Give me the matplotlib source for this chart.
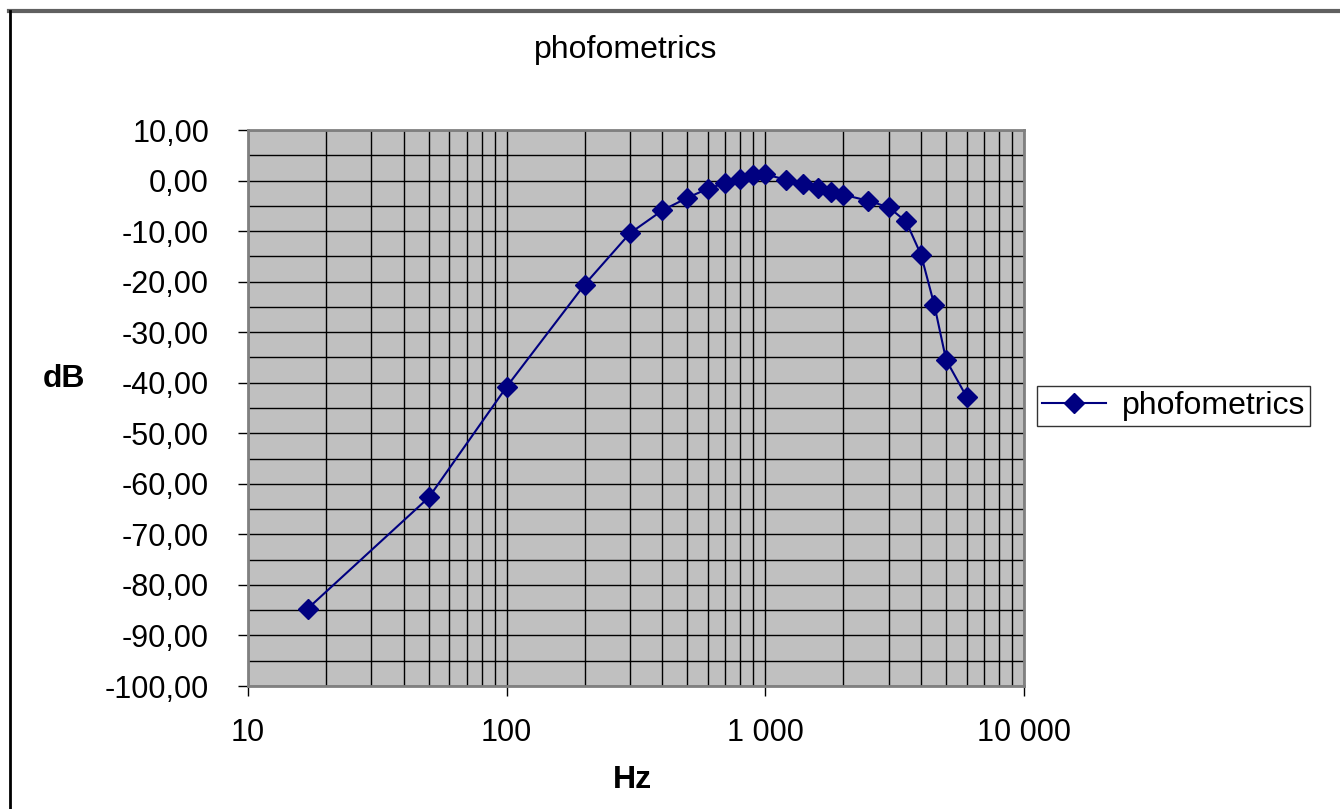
import matplotlib
matplotlib.use("Agg")
import matplotlib.pyplot as plt
from matplotlib.lines import Line2D
from matplotlib.ticker import FixedLocator, FuncFormatter, LogLocator, MultipleLocator

plt.rcParams['font.family'] = ['Liberation Sans', 'DejaVu Sans']

# data
freq_hz = [17, 50, 100, 200, 300, 400, 500, 600, 700, 800, 900, 1000,
           1200, 1400, 1600, 1800, 2000, 2500, 3000, 3500, 4000, 4500, 5000, 6000]
level_db = [-84.7, -62.7, -40.8, -20.6, -10.4, -5.9, -3.4, -1.6, -0.5, 0.4, 1.0, 1.2,
            0.2, -0.6, -1.4, -2.2, -2.8, -4.0, -5.3, -8.1, -14.7, -24.6, -35.5, -42.8]
series_name = "phofometrics"
y_ticks = list(range(-100, 11, 10))

fig = plt.figure(figsize=(13.4, 8.09), dpi=100)
ax = fig.add_axes([248/1340, 1 - 686/809, (1024 - 248)/1340, (686 - 130)/809])
ax.set_facecolor('#c0c0c0')

ax.plot(freq_hz, level_db, color='#000080', lw=1.5, marker='D', ms=10,
        markerfacecolor='#000080', markeredgecolor='#000080', label=series_name)

ax.set_xscale('log')
ax.set_xlim(10, 10000)
ax.set_ylim(-100, 10)

ax.xaxis.set_major_locator(FixedLocator([10, 100, 1000, 10000]))
ax.xaxis.set_minor_locator(LogLocator(base=10, subs=range(2, 10)))
ax.xaxis.set_major_formatter(FuncFormatter(lambda v, p: f"{int(round(v)):,}".replace(',', ' ')))
ax.xaxis.set_minor_formatter(FuncFormatter(lambda v, p: ''))
ax.yaxis.set_major_locator(FixedLocator(y_ticks))
ax.yaxis.set_minor_locator(MultipleLocator(5))
ax.yaxis.set_major_formatter(FuncFormatter(lambda v, p: f"{v:.2f}".replace('.', ',')))

ax.grid(which='both', color='black', lw=1.0)
ax.set_axisbelow(True)
ax.tick_params(axis='both', which='major', direction='out', length=7, width=1,
               color='black', labelsize=22)
ax.tick_params(axis='both', which='minor', length=0)
ax.tick_params(axis='x', pad=16)
ax.tick_params(axis='y', pad=21)
for s in ax.spines.values():
    s.set_color('#808080')
    s.set_linewidth(2)

fig.text(626/1340, 1 - 50/809, series_name, ha='center', va='center', fontsize=23)
fig.text(632/1340, 1 - 780/809, "Hz", ha='center', va='center', fontsize=23, fontweight='bold')
fig.text(64/1340, 1 - 379/809, "dB", ha='center', va='center', fontsize=23, fontweight='bold')

leg = fig.legend(loc='center left', bbox_to_anchor=(1037/1340, 1 - 406/809),
                 fontsize=23, frameon=True, fancybox=False, borderpad=0.15,
                 handlelength=2.0, handletextpad=0.5, borderaxespad=0)
leg.get_frame().set_edgecolor('black')
leg.get_frame().set_linewidth(1)

# outer chart border (top and left edges visible in the reference)
fig.add_artist(Line2D([9/1340, 1], [1 - 11/809, 1 - 11/809], color='#606060', lw=3,
                      transform=fig.transFigure))
fig.add_artist(Line2D([9.5/1340, 9.5/1340], [0, 1 - 11/809], color='black', lw=2,
                      transform=fig.transFigure))

fig.savefig('out.png', dpi=100)
